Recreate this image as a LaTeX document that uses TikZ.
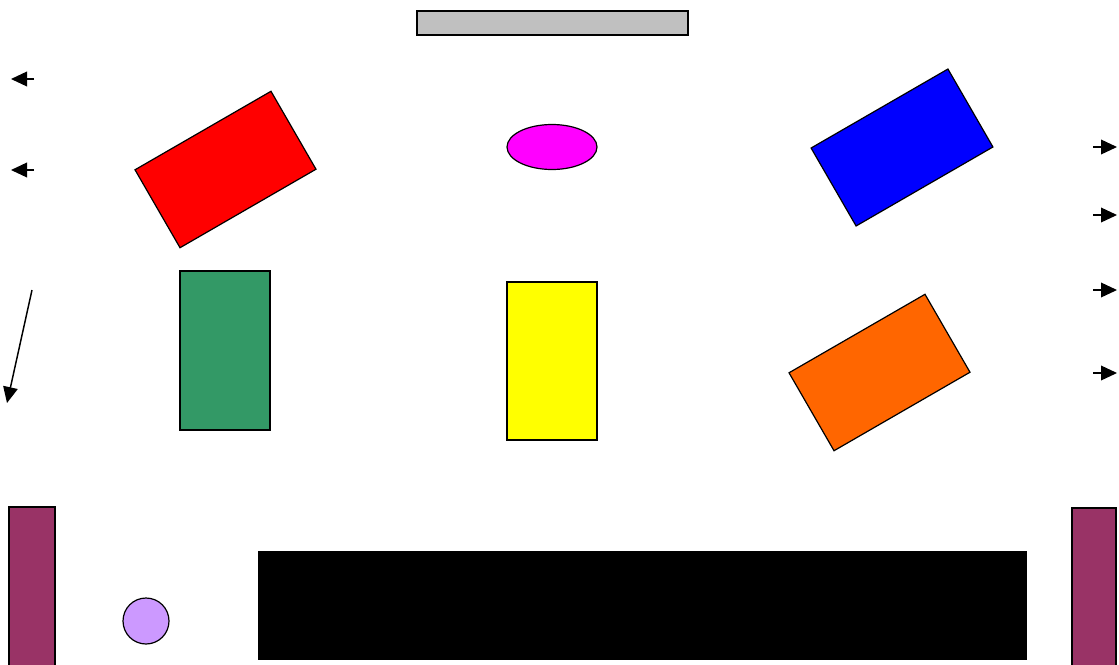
\documentclass[tikz,border=0pt]{standalone}
\usetikzlibrary{arrows.meta,shapes.geometric}
\definecolor{greyfill}{HTML}{C0C0C0}
\definecolor{magfill}{HTML}{FF00FF}
\definecolor{greenfill}{HTML}{339966}
\definecolor{orangefill}{HTML}{FF6600}
\definecolor{maroonfill}{HTML}{993366}
\definecolor{lavfill}{HTML}{CC99FF}
\definecolor{redfill}{HTML}{FF0000}
\definecolor{bluefill}{HTML}{0000FF}
\definecolor{yellowfill}{HTML}{FFFF00}
\def\pxu{0.75pt}
\tikzset{
  shp/.style={draw=black, line width=0.9pt, inner sep=0pt, outer sep=0pt},
  box/.style 2 args={shp, rectangle, minimum width={#1*\pxu}, minimum height={#2*\pxu}},
  arr/.style={line width=1.1pt, -{Triangle[length=12pt,width=11pt]}},
}
\begin{document}
\begin{tikzpicture}[x=0.75pt,y=-0.75pt]
\useasboundingbox (0,0) rectangle (1119,664);
% top bar
\node[box={271}{24}, fill=greyfill] (bar) at (552.5,23) {};
% rotated rectangles
\node[box={157}{90}, fill=redfill, rotate=30] (red) at (225.5,169.5) {};
\node[box={158}{90}, fill=bluefill, rotate=30] (blue) at (902,147.5) {};
\node[box={157}{90}, fill=orangefill, rotate=30] (orange) at (879.5,372.5) {};
% ellipse
\node[shp, ellipse, fill=magfill, minimum width={90*\pxu}, minimum height={45*\pxu}] (ell) at (552,147) {};
% upright rectangles
\node[box={90}{159}, fill=greenfill] (green) at (225,350.5) {};
\node[box={90}{158}, fill=yellowfill] (yellow) at (552,361) {};
% bottom
\node[box={46}{170}, fill=maroonfill, anchor=north west] (ml) at (9,507) {};
\node[box={44}{170}, fill=maroonfill, anchor=north west] (mr) at (1072,508) {};
\node[shp, circle, fill=lavfill, minimum size={46*\pxu}] (circ) at (146,621) {};
\node[box={767}{107}, fill=black, anchor=north west] (blk) at (259,552) {};
% arrows
\coordinate (l1s) at (34,79); \coordinate (l1e) at (11,79);
\coordinate (l2s) at (34,170); \coordinate (l2e) at (11,170);
\draw[arr] (l1s) -- (l1e);
\draw[arr] (l2s) -- (l2e);
\coordinate (ds) at (32,290); \coordinate (de) at (7,403);
\draw[arr] (ds) -- (de);
\foreach \y [count=\i] in {147,215,290,373} {
  \coordinate (r\i s) at (1093,\y);
  \coordinate (r\i e) at (1117,\y);
  \draw[arr] (r\i s) -- (r\i e);
}
\end{tikzpicture}
\end{document}
